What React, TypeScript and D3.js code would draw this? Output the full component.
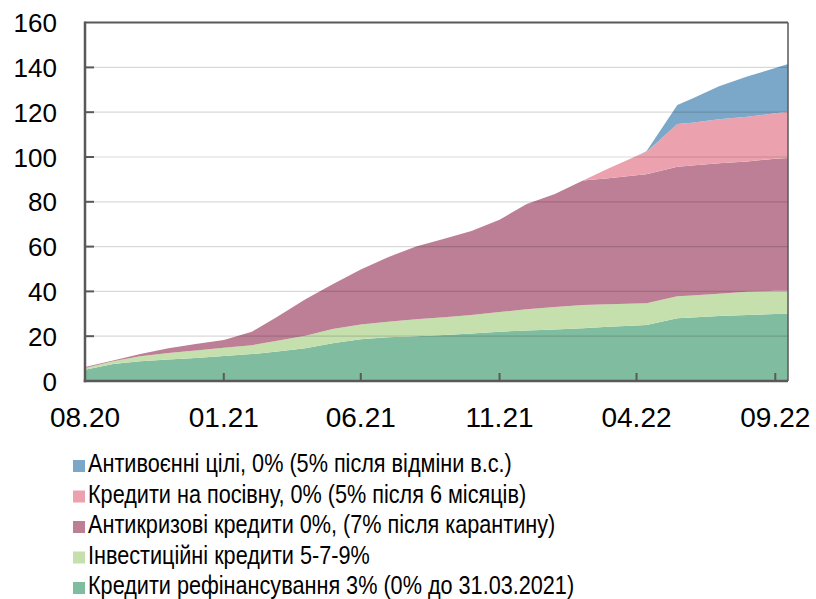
import React from "react";
import * as d3 from "d3";

const dates = [
  "2020-08-01", "2020-09-01", "2020-10-01", "2020-11-01", "2020-12-01",
  "2021-01-01", "2021-02-01", "2021-03-01", "2021-04-01", "2021-05-01",
  "2021-06-01", "2021-07-01", "2021-08-01", "2021-09-01", "2021-10-01",
  "2021-11-01", "2021-12-01", "2022-01-01", "2022-02-01", "2022-03-01",
  "2022-04-01", "2022-04-12", "2022-05-16", "2022-06-01", "2022-07-01",
  "2022-08-01", "2022-09-01", "2022-09-15",
];

// Кредити рефінансування
const refin = [5.0, 7.6, 8.8, 9.6, 10.3, 11.2, 12.0, 13.2, 14.6, 16.8, 18.6, 19.5, 20.0, 20.5, 21.2, 22.0, 22.5, 23.0, 23.5, 24.2, 24.8, 25.0, 28.0, 28.3, 29.0, 29.5, 29.9, 30.0];
// Інвестиційні кредити
const invest = [0.8, 1.2, 2.2, 2.9, 3.3, 3.6, 4.0, 4.8, 5.6, 6.4, 6.6, 7.0, 7.6, 8.0, 8.3, 8.8, 9.5, 10.0, 10.4, 10.1, 9.8, 9.7, 9.8, 9.9, 10.0, 10.3, 10.4, 10.3];
// Антикризові кредити
const anticrisis = [0.4, 0.4, 1.0, 2.1, 2.9, 3.5, 6.0, 10.7, 16.3, 20.0, 24.6, 28.8, 32.4, 35.0, 37.5, 41.2, 47.0, 50.5, 55.6, 56.2, 57.2, 57.6, 57.9, 58.0, 58.2, 58.2, 58.9, 59.2];
// Кредити на посівну
const sowing = [0, 0, 0, 0, 0, 0, 0, 0, 0, 0, 0, 0, 0, 0, 0, 0, 0, 0, 0, 4.4, 8.6, 9.9, 19.0, 19.1, 19.6, 20.0, 20.3, 20.7];
// Антивоєнні цілі
const war = [0, 0, 0, 0, 0, 0, 0, 0, 0, 0, 0, 0, 0, 0, 0, 0, 0, 0, 0, 0, 0, 0.4, 8.5, 10.7, 14.8, 17.9, 20.2, 21.3];

const seriesKeys = ["refin", "invest", "anticrisis", "sowing", "war"];
const seriesLabels = [
  "Кредити рефінансування 3% (0% до 31.03.2021)",
  "Інвестиційні кредити 5-7-9%",
  "Антикризові кредити 0%, (7% після карантину)",
  "Кредити на посівну, 0% (5% після 6 місяців)",
  "Антивоєнні цілі, 0% (5% після відміни в.с.)",
];
const seriesColors = ["#80bca0", "#c5e0ad", "#bd7f96", "#eca2ae", "#7ba8c8"];

const yTicks = [0, 20, 40, 60, 80, 100, 120, 140, 160];
const xTickDates = ["2020-08-01", "2021-01-01", "2021-06-01", "2021-11-01", "2022-04-01", "2022-09-01"];
const xTickLabels = ["08.20", "01.21", "06.21", "11.21", "04.22", "09.22"];

const W = 816;
const H = 599;
const L = 85;
const R = 788;
const T = 22.6;
const B = 381;

export default function App() {
  const parse = d3.timeParse("%Y-%m-%d");
  const rows = dates.map((d, i) => ({
    date: parse(d) as Date,
    refin: refin[i],
    invest: invest[i],
    anticrisis: anticrisis[i],
    sowing: sowing[i],
    war: war[i],
  }));
  const x = d3
    .scaleTime()
    .domain([rows[0].date, rows[rows.length - 1].date])
    .range([L, R]);
  const y = d3.scaleLinear().domain([0, 160]).range([B, T]);
  const stacked = d3.stack<any>().keys(seriesKeys)(rows);
  const area = d3
    .area<any>()
    .x((d) => x(d.data.date))
    .y0((d) => y(d[0]))
    .y1((d) => y(d[1]));

  const font = "'Liberation Sans', Arial, sans-serif";
  const axisColor = "#595959";
  const legendOrder = [4, 3, 2, 1, 0];

  return (
    <svg
      width={W}
      height={H}
      style={{ position: "absolute", left: 0, top: 0, background: "#fff" }}
      fontFamily={font}
    >
      <rect x={0} y={0} width={W} height={H} fill="#fff" />
      {stacked.map((s, i) => (
        <path key={seriesKeys[i]} d={area(s) || ""} fill={seriesColors[i]} />
      ))}
      {yTicks.slice(1, -1).map((t) => (
        <line
          key={"g" + t}
          x1={L}
          x2={R}
          y1={y(t)}
          y2={y(t)}
          stroke="#000"
          strokeOpacity={0.15}
          strokeWidth={1.2}
        />
      ))}
      {yTicks.slice(1, -1).map((t) => (
        <line key={"yt" + t} x1={L} x2={L + 9} y1={y(t)} y2={y(t)} stroke={axisColor} strokeWidth={2} />
      ))}
      {xTickDates.map((d) => {
        const xx = x(parse(d) as Date);
        return <line key={"xt" + d} x1={xx} x2={xx} y1={B} y2={B - 8} stroke={axisColor} strokeWidth={2} />;
      })}
      {/* frame */}
      <line x1={L} x2={R} y1={T} y2={T} stroke={axisColor} strokeWidth={2} />
      <line x1={R} x2={R} y1={T} y2={B} stroke={axisColor} strokeWidth={1.5} />
      <line x1={L} x2={L} y1={T - 1} y2={B + 1.25} stroke={axisColor} strokeWidth={2.5} />
      <line x1={L - 1.25} x2={R} y1={B} y2={B} stroke={axisColor} strokeWidth={2.5} />
      {yTicks.map((t) => (
        <text key={"yl" + t} x={57} y={y(t) + 9.5} textAnchor="end" fontSize={26} fill="#000">
          {t}
        </text>
      ))}
      {xTickDates.map((d, i) => (
        <text
          key={"xl" + d}
          x={x(parse(d) as Date)}
          y={427}
          textAnchor="middle"
          fontSize={28}
          fill="#000"
        >
          {xTickLabels[i]}
        </text>
      ))}
      {legendOrder.map((si, row) => {
        const by = 472 + row * 30.5;
        return (
          <g key={"lg" + si}>
            <rect x={73} y={by - 12} width={12} height={12} fill={seriesColors[si]} />
            <text
              transform={`translate(88, ${by}) scale(0.866, 1)`}
              x={0}
              y={0}
              fontSize={25}
              fill="#000"
            >
              {seriesLabels[si]}
            </text>
          </g>
        );
      })}
    </svg>
  );
}
